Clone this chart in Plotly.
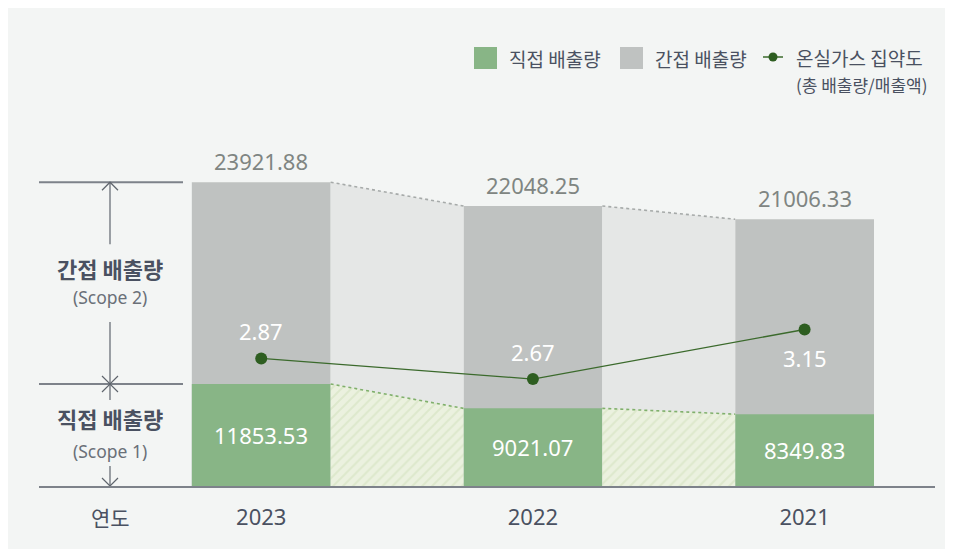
import plotly.graph_objects as go

# ---------------- data ----------------
years = ["2023", "2022", "2021"]
direct = [11853.53, 9021.07, 8349.83]        # 직접 배출량 (Scope 1)
total = [23921.88, 22048.25, 21006.33]        # 총 배출량 (Scope 1 + 2)
intensity = [2.87, 2.67, 3.15]                # 온실가스 집약도

# ---------------- layout helpers ----------------
OFF = 8                      # page body margin
W, H = 945, 541
ML, MR, MT, MB = 31, 18, 0, 63
PW, PH = W - ML - MR, H - MT - MB


def px2x(px):   # screen px -> paper x
    return (px - OFF - ML) / PW


def py2y(py):   # screen py -> paper y
    return (H - MB - (py - OFF)) / PH


GREEN = "#88b586"
GRAY = "#bfc2c1"
CONN = "#e5e7e6"
HATCH_BG = "#ebf1df"
HATCH_FG = "#cfe0b9"
LINE_C = "#3b6a2c"
DOT_C = "#2e5e21"
TXT = "#4a5161"
TOT_TXT = "#7f8582"
AX_C = "#7d828a"
DECO_C = "#5f656d"
PANEL = "#f3f5f4"

NUM_FONT = "Noto Sans, Noto Sans CJK KR"
KR_FONT = "Noto Sans CJK KR"

xs = list(range(len(years)))
BW = 0.511

fig = go.Figure()

# gray connectors (total scale, axis y)
for i in range(len(xs) - 1):
    xa, xb = xs[i] + BW / 2, xs[i + 1] - BW / 2
    fig.add_trace(go.Scatter(x=[xa, xa, xb, xb], y=[0, total[i], total[i + 1], 0],
                             fill="toself", fillcolor=CONN, mode="lines",
                             line=dict(width=0), hoverinfo="skip", yaxis="y"))
    fig.add_trace(go.Scatter(x=[xa, xb], y=[total[i], total[i + 1]], mode="lines",
                             line=dict(color="#a6aaa9", width=1.6, dash="dot"),
                             hoverinfo="skip", yaxis="y"))

fig.add_trace(go.Bar(x=xs, y=total, width=BW, marker=dict(color=GRAY, line=dict(width=0)),
                     hoverinfo="skip", yaxis="y"))

# green (direct emission scale, axis y2)
fig.add_trace(go.Bar(x=xs, y=direct, width=BW, marker=dict(color=GREEN, line=dict(width=0)),
                     hoverinfo="skip", yaxis="y2"))
for i in range(len(xs) - 1):
    xa, xb = xs[i] + BW / 2, xs[i + 1] - BW / 2
    fig.add_trace(go.Scatter(x=[xa, xa, xb, xb], y=[0, direct[i], direct[i + 1], 0],
                             fill="toself", fillcolor=HATCH_BG,
                             fillpattern=dict(shape="/", fgcolor=HATCH_FG, bgcolor=HATCH_BG,
                                              size=7, solidity=0.28),
                             mode="lines", line=dict(width=0), hoverinfo="skip", yaxis="y2"))
    fig.add_trace(go.Scatter(x=[xa, xb], y=[direct[i], direct[i + 1]], mode="lines",
                             line=dict(color="#80b06c", width=1.6, dash="dot"),
                             hoverinfo="skip", yaxis="y2"))

# intensity line (axis y3)
fig.add_trace(go.Scatter(x=xs, y=intensity, mode="lines+markers",
                         line=dict(color=LINE_C, width=1.3),
                         marker=dict(color=DOT_C, size=12),
                         hoverinfo="skip", yaxis="y3"))

annotations = []
for i, x in enumerate(xs):
    annotations.append(dict(x=x, y=total[i], xref="x", yref="y", text=f"{total[i]:.2f}",
                            showarrow=False, yshift=21, xanchor="center", yanchor="middle",
                            font=dict(family=NUM_FONT, size=22, color=TOT_TXT)))
    annotations.append(dict(x=x, y=direct[i] / 2, xref="x", yref="y2", text=f"{direct[i]:.2f}",
                            showarrow=False, xanchor="center", yanchor="middle",
                            font=dict(family=NUM_FONT, size=22, color="white")))
    below = intensity[i] == max(intensity)
    annotations.append(dict(x=x, y=intensity[i], xref="x", yref="y3", text=f"{intensity[i]:.2f}",
                            showarrow=False, yshift=-29 if below else 27,
                            xanchor="center", yanchor="middle",
                            font=dict(family=NUM_FONT, size=22, color="white")))


def ptext(px, py, text, size, color, family, xanchor="center"):
    return dict(x=px2x(px), y=py2y(py), xref="paper", yref="paper", text=text,
                xanchor=xanchor, yanchor="middle", showarrow=False,
                font=dict(family=family, size=size, color=color))


# left side labels
annotations += [
    ptext(110, 268, "<b>간접 배출량</b>", 22, TXT, KR_FONT),
    ptext(110, 297, "(Scope 2)", 17.5, "#6a7078", NUM_FONT),
    ptext(110, 418, "<b>직접 배출량</b>", 22, TXT, KR_FONT),
    ptext(110, 451, "(Scope 1)", 17.5, "#6a7078", NUM_FONT),
    ptext(110, 517, "연도", 21, TXT, KR_FONT),
]

# legend texts
annotations += [
    ptext(507, 58, "직접 배출량", 19, TXT, KR_FONT, "left"),
    ptext(653, 58, "간접 배출량", 19, TXT, KR_FONT, "left"),
    ptext(794, 57, "온실가스 집약도", 19, TXT, KR_FONT, "left"),
    ptext(794, 85, "(총 배출량/매출액)", 17, TXT, KR_FONT, "left"),
]

left_cx = px2x(110)
shapes = [
    # horizontal guide lines
    dict(type="line", xref="paper", yref="y", x0=0, x1=px2x(183), y0=total[0], y1=total[0],
         line=dict(color=AX_C, width=2)),
    dict(type="line", xref="paper", yref="y2", x0=0, x1=px2x(183), y0=direct[0], y1=direct[0],
         line=dict(color=AX_C, width=2)),
    # legend symbols
    dict(type="rect", xref="paper", yref="paper", x0=px2x(474), x1=px2x(497), y0=py2y(69), y1=py2y(47),
         fillcolor=GREEN, line=dict(width=0)),
    dict(type="rect", xref="paper", yref="paper", x0=px2x(620), x1=px2x(643), y0=py2y(69), y1=py2y(47),
         fillcolor=GRAY, line=dict(width=0)),
    dict(type="line", xref="paper", yref="paper", x0=px2x(763), x1=px2x(783), y0=py2y(57), y1=py2y(57),
         line=dict(color=LINE_C, width=1.5)),
    dict(type="circle", xref="paper", yref="paper", x0=px2x(768.5), x1=px2x(777.5),
         y0=py2y(61.5), y1=py2y(52.5), fillcolor=DOT_C, line=dict(width=0)),
]


def vseg(yref, anchor, p0, p1):
    return dict(type="line", xref="paper", x0=left_cx, x1=left_cx, yref=yref,
                ysizemode="pixel", yanchor=anchor, y0=p0, y1=p1,
                line=dict(color=DECO_C, width=1.2))


def chevron(yref, anchor, up):
    path = "M-8,-8 L0,0 L8,-8" if up else "M-8,8 L0,0 L8,8"
    return dict(type="path", xref="paper", xsizemode="pixel", xanchor=left_cx,
                yref=yref, ysizemode="pixel", yanchor=anchor, path=path,
                fillcolor="rgba(0,0,0,0)", line=dict(color=DECO_C, width=1.2))


shapes += [
    vseg("y", total[0], 0, -62), chevron("y", total[0], True),
    vseg("y2", direct[0], 62, -16), chevron("y2", direct[0], False), chevron("y2", direct[0], True),
    vseg("y", 0, 0, 20), chevron("y", 0, False),
]

fig.update_layout(
    width=W, height=H,
    margin=dict(l=ML, r=MR, t=MT, b=MB),
    paper_bgcolor=PANEL, plot_bgcolor="rgba(0,0,0,0)",
    showlegend=False, hovermode=False, barmode="overlay",
    xaxis=dict(range=[-0.818, 2.48], tickvals=xs, ticktext=years, showline=True,
               linecolor=AX_C, linewidth=2, showgrid=False, zeroline=False,
               ticks="outside", ticklen=11, tickcolor="rgba(0,0,0,0)",
               tickfont=dict(family=NUM_FONT, size=22, color=TXT), fixedrange=True),
    yaxis=dict(range=[0, 37640], visible=False, fixedrange=True),
    yaxis2=dict(range=[0, 55550], overlaying="y", visible=False, fixedrange=True),
    yaxis3=dict(range=[1.635, 6.262], overlaying="y", visible=False, fixedrange=True),
    annotations=annotations,
    shapes=shapes,
)

fig.write_html("out.html")
